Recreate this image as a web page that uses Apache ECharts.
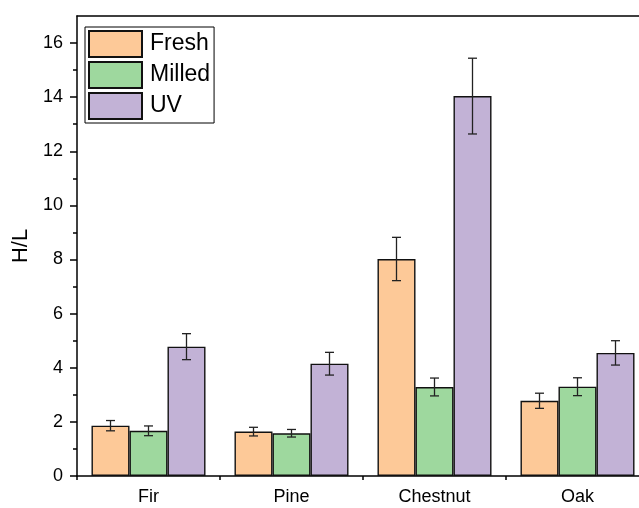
<!DOCTYPE html>
<html><head><meta charset="utf-8">
<script src="https://cdn.jsdelivr.net/npm/echarts@6/dist/echarts.min.js"></script>
<style>html,body{margin:0;padding:0;background:#fff}#c{width:639px;height:508px}</style>
</head><body><div id="c"></div>
<script>
const categories = ['Fir', 'Pine', 'Chestnut', 'Oak'];
const seriesNames = ['Fresh', 'Milled', 'UV'];
const freshVals = [1.86, 1.64, 8.02, 2.78];
const freshErr = [0.19, 0.16, 0.80, 0.28];
const milledVals = [1.67, 1.58, 3.29, 3.30];
const milledErr = [0.18, 0.14, 0.33, 0.33];
const uvVals = [4.78, 4.15, 14.04, 4.55];
const uvErr = [0.48, 0.42, 1.40, 0.45];
const majorTicks = [0, 2, 4, 6, 8, 10, 12, 14, 16];
const minorTicks = [1, 3, 5, 7, 9, 11, 13, 15];

const colors = ['#FDC998', '#9ED89E', '#C2B2D6'];
const vals = [freshVals, milledVals, uvVals];
const errs = [freshErr, milledErr, uvErr];
const BAR_W = 38;
const font = 'Liberation Sans, Arial, sans-serif';

const series = [];
seriesNames.forEach((name, i) => {
  series.push({
    name: name, type: 'bar', data: vals[i], barWidth: BAR_W, barGap: '0%',
    itemStyle: { color: colors[i], borderColor: '#111', borderWidth: 1.4 },
    xAxisIndex: 0, yAxisIndex: 0
  });
});
seriesNames.forEach((name, i) => {
  series.push({
    type: 'custom', xAxisIndex: 0, yAxisIndex: 0, z: 5,
    data: categories.map((c, k) => [k, vals[i][k] - errs[i][k], vals[i][k] + errs[i][k]]),
    renderItem: function (params, api) {
      const lo = api.coord([api.value(0), api.value(1)]);
      const hi = api.coord([api.value(0), api.value(2)]);
      const x = lo[0] + (i - 1) * BAR_W;
      const cap = 4.5;
      const st = { stroke: '#222', lineWidth: 1.3 };
      return { type: 'group', children: [
        { type: 'line', shape: { x1: x, y1: lo[1], x2: x, y2: hi[1] }, style: st },
        { type: 'line', shape: { x1: x - cap, y1: lo[1], x2: x + cap, y2: lo[1] }, style: st },
        { type: 'line', shape: { x1: x - cap, y1: hi[1], x2: x + cap, y2: hi[1] }, style: st }
      ]};
    }
  });
});

const chart = echarts.init(document.getElementById('c'), null, { renderer: 'canvas' });
chart.setOption({
  animation: false,
  backgroundColor: '#fff',
  grid: { left: 77, top: 16, bottom: 32, width: 572, outerBoundsMode: 'none', containLabel: false, show: false },
  legend: {
    data: seriesNames.map(n => ({ name: n, icon: 'rect' })), orient: 'vertical', left: 85, top: 27,
    itemWidth: 53, itemHeight: 26, itemGap: 3, padding: [3, 4, 3, 3],
    borderColor: '#000', borderWidth: 1,
    textStyle: { fontFamily: font, fontSize: 23, color: '#000', padding: [0, 0, 0, 3] }
  },
  xAxis: [
    { type: 'category', data: categories, position: 'bottom',
      axisLine: { lineStyle: { color: '#000', width: 1.5 } },
      axisTick: { alignWithLabel: true, length: 7, lineStyle: { color: '#000', width: 1.5 } },
      axisLabel: { fontFamily: font, fontSize: 18, color: '#000', margin: 12 } },
    { type: 'category', data: categories, position: 'bottom', gridIndex: 0, offset: 0,
      axisLine: { show: false },
      axisTick: { show: true, alignWithLabel: false, length: 4, lineStyle: { color: '#000', width: 1.5 } },
      axisLabel: { show: false } },
    { type: 'category', data: categories, position: 'top', gridIndex: 0, offset: 0,
      axisLine: { show: true, lineStyle: { color: '#000', width: 1.5 } },
      axisTick: { show: false },
      axisLabel: { show: false } }
  ],
  yAxis: [
    { type: 'value', min: 0, max: 17, interval: 1, position: 'left',
      name: 'H/L', nameLocation: 'middle', nameGap: 42, nameRotate: 90,
      nameTextStyle: { fontFamily: font, fontSize: 22, color: '#000' },
      axisLine: { show: true, lineStyle: { color: '#000', width: 1.5 } },
      axisTick: { show: true, length: 7, customValues: majorTicks, lineStyle: { color: '#000', width: 1.5 } },
      axisLabel: { fontFamily: font, fontSize: 18, color: '#000', margin: 14, customValues: majorTicks },
      splitLine: { show: false } },
    { type: 'value', min: 0, max: 17, interval: 1, position: 'left', offset: 0,
      axisLine: { show: false },
      axisTick: { show: true, length: 4, customValues: minorTicks, lineStyle: { color: '#000', width: 1.5 } },
      axisLabel: { show: false },
      splitLine: { show: false } }
  ],
  series: series
});
</script></body></html>
